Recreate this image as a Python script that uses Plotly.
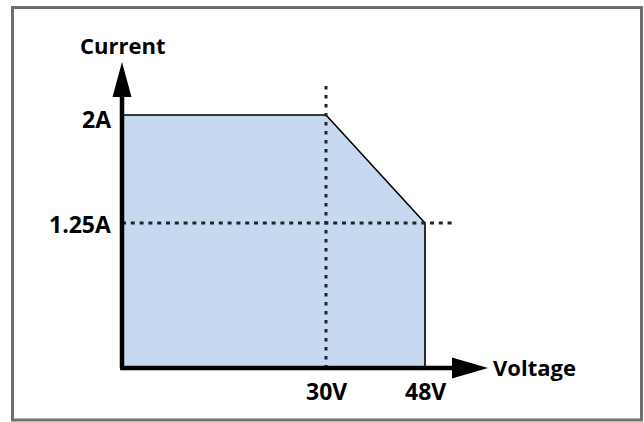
import plotly.graph_objects as go

# ---- data ----
voltage_ticks = [30, 48]
voltage_labels = ["30V", "48V"]
current_ticks = [2, 1.25]
current_labels = ["2A", "1.25A"]
# operating envelope corner points (V, A)
env_voltage = [30, 48]
env_current = [2, 1.25]
x_title = "Voltage"
y_title = "Current"

# ---- layout geometry ----
W, H = 644, 422
X_RANGE = [-161 / 5.5, (W - 161) / 5.5]
Y_RANGE = [(403 - H) / 144, 403 / 144]


def px_x(p):
    return X_RANGE[0] + p / W * (X_RANGE[1] - X_RANGE[0])


def px_y(p):
    return Y_RANGE[1] - p / H * (Y_RANGE[1] - Y_RANGE[0])


ox, oy = px_x(122), px_y(368)          # axis origin
y_arrow_base, y_arrow_tip = px_y(97), px_y(62)
x_arrow_base, x_arrow_tip = px_x(452), px_x(488)

FONT = "Open Sans"
FS = 22
TICK_FS = 23
fill_col = "#c6d9f0"

fig = go.Figure()

# filled envelope
fig.add_trace(go.Scatter(
    x=[ox, ox] + env_voltage + [env_voltage[-1]],
    y=[oy, current_ticks[0]] + env_current + [oy],
    fill="toself", fillcolor=fill_col, mode="none", hoverinfo="skip"))

# envelope outline
fig.add_trace(go.Scatter(
    x=[ox] + env_voltage + [env_voltage[-1]],
    y=[env_current[0]] + env_current + [oy],
    mode="lines", line=dict(color="black", width=1.6), hoverinfo="skip"))

# dotted guide lines
fig.add_trace(go.Scatter(
    x=[voltage_ticks[0], voltage_ticks[0]], y=[px_y(86), oy],
    mode="lines", line=dict(color="#222222", width=3, dash="3.5px,5.5px"), hoverinfo="skip"))
fig.add_trace(go.Scatter(
    x=[ox, x_arrow_base], y=[current_ticks[1], current_ticks[1]],
    mode="lines", line=dict(color="#222222", width=3, dash="4px,4.8px"), hoverinfo="skip"))

# axes lines
fig.add_trace(go.Scatter(
    x=[ox, ox], y=[oy, y_arrow_base + 0.01],
    mode="lines", line=dict(color="black", width=4.5), hoverinfo="skip"))
fig.add_trace(go.Scatter(
    x=[ox - 0.35, x_arrow_base + 0.1], y=[oy, oy],
    mode="lines", line=dict(color="black", width=4.5), hoverinfo="skip"))

shapes = []
# arrowheads
hw_y = (px_x(131.5) - px_x(112.5)) / 2
shapes.append(dict(type="path", xref="x", yref="y",
                   path=f"M {ox - hw_y} {y_arrow_base} L {ox} {y_arrow_tip} L {ox + hw_y} {y_arrow_base} Z",
                   fillcolor="black", line=dict(width=0)))
hh_x = (px_y(358.5) - px_y(379.5)) / 2
shapes.append(dict(type="path", xref="x", yref="y",
                   path=f"M {x_arrow_base} {oy - hh_x} L {x_arrow_tip} {oy} L {x_arrow_base} {oy + hh_x} Z",
                   fillcolor="black", line=dict(width=0)))
# frame
shapes.append(dict(type="rect", xref="paper", yref="paper",
                   x0=12.5 / W, x1=641.5 / W, y0=1 - 420 / H, y1=1 - 7.5 / H,
                   line=dict(color="#6e6e73", width=3), fillcolor="rgba(0,0,0,0)", layer="above"))

annotations = []
for v, lab in zip(voltage_ticks, voltage_labels):
    annotations.append(dict(x=v, y=oy, text=f"<b>{lab}</b>", showarrow=False,
                            font=dict(size=TICK_FS),
                            xanchor="center", yanchor="top", yshift=-5))
for a, lab, ys in zip(current_ticks, current_labels, [-4, -1]):
    annotations.append(dict(x=ox, y=a, text=f"<b>{lab}</b>", showarrow=False,
                            font=dict(size=TICK_FS),
                            xanchor="right", yanchor="middle", xshift=-9, yshift=ys))
annotations.append(dict(x=px_x(491), y=oy, text=f"<b>{x_title}</b>", showarrow=False,
                        xanchor="left", yanchor="middle", yshift=1))
annotations.append(dict(x=ox, y=px_y(45), text=f"<b>{y_title}</b>", showarrow=False,
                        xanchor="center", yanchor="middle"))

fig.update_layout(
    width=W, height=H, margin=dict(l=0, r=0, t=0, b=0),
    paper_bgcolor="white", plot_bgcolor="white", showlegend=False,
    xaxis=dict(range=X_RANGE, visible=False, fixedrange=True),
    yaxis=dict(range=Y_RANGE, visible=False, fixedrange=True),
    font=dict(family=FONT, size=FS, color="black"),
    shapes=shapes, annotations=annotations,
)

fig.write_html("out.html", config={"displayModeBar": False},
               post_script="document.body.style.margin='0';document.body.style.overflow='hidden';")
